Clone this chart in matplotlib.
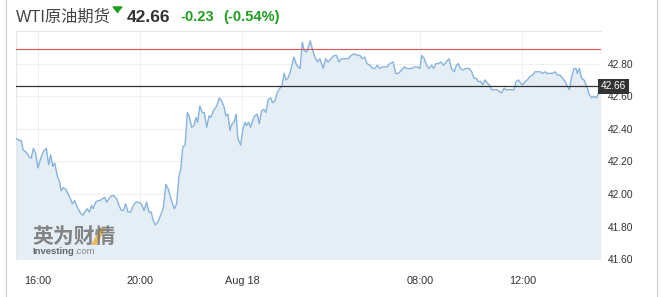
import matplotlib
matplotlib.use("Agg")
import matplotlib.pyplot as plt
from matplotlib.transforms import blended_transform_factory
from matplotlib.lines import Line2D
from matplotlib.patches import Polygon, FancyArrowPatch

plt.rcParams['font.family'] = ['Liberation Sans', 'Noto Sans CJK SC', 'DejaVu Sans']

# trading hours after 16:00 (the 1h break is skipped) and price
t_hours = [-0.84, -0.75, -0.66, -0.58, -0.48, -0.35, -0.26, -0.18, -0.09,
           0.00, 0.11, 0.21, 0.33, 0.42, 0.50, 0.58, 0.66, 0.76, 0.84, 0.91, 0.99,
           1.09, 1.22, 1.35, 1.44, 1.54, 1.68, 1.77, 1.84, 1.93,
           2.01, 2.11, 2.17, 2.26, 2.35, 2.43, 2.52, 2.62, 2.69, 2.78, 2.88, 2.98,
           3.09, 3.18, 3.27, 3.35, 3.44, 3.53, 3.64, 3.74, 3.84, 3.95,
           4.05, 4.16, 4.26, 4.35, 4.44, 4.52, 4.60, 4.71, 4.81, 4.91,
           5.02, 5.11, 5.24, 5.35, 5.44, 5.53, 5.60, 5.68, 5.77, 5.86, 5.93,
           6.03, 6.12, 6.20, 6.26, 6.35, 6.44, 6.52, 6.62, 6.71, 6.78, 6.88,
           7.01, 7.11, 7.20, 7.29, 7.37, 7.45, 7.53, 7.61, 7.69, 7.77, 7.84, 7.95,
           8.03, 8.12, 8.18, 8.26, 8.34, 8.42, 8.50, 8.60, 8.68, 8.77, 8.86, 8.94,
           9.03, 9.13, 9.20, 9.29, 9.38, 9.49, 9.57, 9.65, 9.73, 9.80, 9.88, 9.96,
           10.04, 10.12, 10.20, 10.28, 10.37, 10.44, 10.54, 10.62,
           10.68, 10.76, 10.86, 10.97, 11.06, 11.19, 11.28, 11.38, 11.49, 11.62,
           11.71, 11.80, 11.91, 12.04, 12.17, 12.28, 12.40, 12.54, 12.63, 12.72,
           12.82, 12.90, 13.02, 13.13, 13.22, 13.31, 13.40, 13.50, 13.68, 13.80,
           13.93, 14.03, 14.13, 14.26, 14.37, 14.46, 14.55, 14.66, 14.76, 14.89,
           14.98, 15.05, 15.15, 15.24, 15.33, 15.44, 15.52, 15.61, 15.70, 15.80,
           15.91, 16.01, 16.12, 16.22, 16.33,
           16.41, 16.48, 16.57, 16.67, 16.78, 16.91, 17.01, 17.10, 17.18, 17.27,
           17.36, 17.44, 17.53, 17.62, 17.70, 17.79, 17.88, 17.99, 18.09, 18.18,
           18.28, 18.35, 18.44, 18.58, 18.67, 18.75, 18.84, 18.93, 19.01, 19.10,
           19.19, 19.29, 19.40, 19.49, 19.58, 19.69, 19.79, 19.88, 19.97, 20.08,
           20.18, 20.28, 20.37, 20.47, 20.58, 20.67, 20.76, 20.84, 20.93, 21.02,
           21.10, 21.15, 21.23, 21.32, 21.41, 21.52, 21.62, 21.71, 21.80, 21.91,
           22.01, 22.07]

price = [42.34, 42.33, 42.33, 42.27, 42.26, 42.23, 42.22, 42.28, 42.25,
         42.16, 42.22, 42.26, 42.28, 42.18, 42.24, 42.17, 42.19, 42.11, 42.08, 42.02, 42.04,
         42.03, 41.99, 41.94, 41.96, 41.92, 41.88, 41.87, 41.89, 41.91,
         41.89, 41.93, 41.91, 41.95, 41.96, 41.96, 41.97, 41.98, 41.95, 41.97, 41.99, 41.99,
         41.97, 41.93, 41.90, 41.90, 41.94, 41.89, 41.89, 41.93, 41.95, 41.95,
         41.94, 41.90, 41.95, 41.89, 41.89, 41.84, 41.81, 41.83, 41.87, 41.91,
         42.06, 42.03, 41.96, 41.91, 41.94, 42.11, 42.15, 42.29, 42.30, 42.50, 42.48,
         42.41, 42.42, 42.47, 42.44, 42.54, 42.50, 42.50, 42.41, 42.48, 42.47, 42.51,
         42.54, 42.59, 42.57, 42.54, 42.48, 42.49, 42.39, 42.43, 42.44, 42.49, 42.34, 42.30,
         42.39, 42.44, 42.42, 42.44, 42.41, 42.45, 42.48, 42.49, 42.43, 42.51, 42.52, 42.50,
         42.58, 42.59, 42.56, 42.57, 42.62, 42.65, 42.66, 42.74, 42.70, 42.71, 42.74, 42.79,
         42.84, 42.80, 42.78, 42.77, 42.93, 42.88, 42.87, 42.91,
         42.94, 42.89, 42.84, 42.81, 42.83, 42.77, 42.83, 42.81, 42.83, 42.85,
         42.85, 42.81, 42.83, 42.83, 42.83, 42.85, 42.86, 42.85, 42.85, 42.83,
         42.84, 42.80, 42.79, 42.77, 42.77, 42.79, 42.77, 42.78, 42.78, 42.80,
         42.81, 42.74, 42.74, 42.76, 42.78, 42.77, 42.77, 42.77, 42.78, 42.78,
         42.77, 42.85, 42.83, 42.79, 42.77, 42.79, 42.77, 42.80, 42.80, 42.81,
         42.79, 42.81, 42.83, 42.77, 42.75,
         42.79, 42.80, 42.77, 42.76, 42.77, 42.77, 42.75, 42.71, 42.71, 42.69,
         42.69, 42.67, 42.70, 42.68, 42.67, 42.64, 42.64, 42.64, 42.63, 42.62,
         42.65, 42.64, 42.64, 42.64, 42.64, 42.69, 42.70, 42.68, 42.67, 42.69,
         42.70, 42.72, 42.73, 42.75, 42.75, 42.75, 42.74, 42.75, 42.74, 42.74,
         42.74, 42.75, 42.73, 42.73, 42.71, 42.69, 42.66, 42.64, 42.72, 42.77,
         42.77, 42.74, 42.77, 42.71, 42.70, 42.66, 42.61, 42.59, 42.60, 42.59,
         42.63, 42.66]

last_price = 42.66
prev_close = 42.89
change = "-0.23"
change_pct = "(-0.54%)"
x_tick_pos = [0, 4, 8, 15, 19]
x_tick_labels = ["16:00", "20:00", "Aug 18", "08:00", "12:00"]
y_ticks = [41.60, 41.80, 42.00, 42.20, 42.40, 42.60, 42.80]

green = "#1e9e1e"
line_blue = "#86b3de"
fill_blue = "#e5eef5"

W, H = 666, 297
fig = plt.figure(figsize=(6.66, 2.97), dpi=100)
ax = fig.add_axes([16 / W, 1 - 259.3 / H, 585 / W, 228.3 / H])

ax.fill_between(t_hours, price, 41.6, color=fill_blue, lw=0, zorder=1)
ax.plot(t_hours, price, color=line_blue, lw=1.0, zorder=3)
ax.axhline(prev_close, color="#d9534f", lw=0.8, zorder=4)
ax.axhline(last_price, color="#333333", lw=0.9, zorder=4)

ax.set_xlim(-0.86, 22.08)
ax.set_ylim(41.6, 43.0)
ax.set_xticks(x_tick_pos)
ax.set_xticklabels(x_tick_labels)
ax.set_yticks(y_ticks)
ax.set_yticklabels([f"{v:.2f}" for v in y_ticks])
ax.yaxis.tick_right()
ax.tick_params(axis='x', length=0, pad=12, labelsize=7.8, labelcolor="#333333")
ax.tick_params(axis='y', length=0, pad=5, labelsize=7.4, labelcolor="#333333")
ax.grid(True, color="#eef0f3", lw=0.8, zorder=0)
ax.set_axisbelow(True)
for side in ["right", "bottom"]:
    ax.spines[side].set_visible(False)
for side in ["top", "left"]:
    ax.spines[side].set_color("#e3e6ea")
    ax.spines[side].set_linewidth(0.8)

# last price tag on the right axis
trans = blended_transform_factory(ax.transAxes, ax.transData)
ax.text(1.0, last_price, f"{last_price:.2f}", transform=trans, ha="left", va="center",
        fontsize=7.3, color="white", zorder=6, clip_on=False,
        bbox=dict(boxstyle="square,pad=0.25", fc="#333333", ec="none"))

# watermark
fig.text(32 / W, 1 - 236 / H, "英为财情", fontsize=15, fontweight="bold",
         color="#707070", alpha=0.85, ha="left", va="center", family=["Noto Sans CJK SC"])
fig.add_artist(Polygon([(91 / W, 1 - 245 / H), (97 / W, 1 - 245 / H),
                        (106 / W, 1 - 228 / H), (100 / W, 1 - 228 / H)],
                       closed=True, transform=fig.transFigure,
                       fc="#e8b64a", ec="none", alpha=0.85))
fig.text(32 / W, 1 - 251 / H, "Investing", fontsize=6.8, fontweight="bold",
         color="#666666", ha="left", va="center")
fig.text(74 / W, 1 - 251 / H, ".com", fontsize=6.8, color="#888888",
         ha="left", va="center")

# header
fig.text(16 / W, 1 - 17 / H, "WTI原油期货", fontsize=11.7, color="#444444",
         ha="left", va="center")
fig.text(127 / W, 1 - 17 / H, f"{last_price:.2f}", fontsize=12.5, fontweight="bold",
         color="#333333", ha="left", va="center")
fig.text(180 / W, 1 - 17 / H, change, fontsize=10.5, fontweight="bold",
         color=green, ha="left", va="center")
fig.text(223 / W, 1 - 17 / H, change_pct, fontsize=10.5, fontweight="bold",
         color=green, ha="left", va="center")
fig.add_artist(FancyArrowPatch(
    (117.5 / W, 1 - 8 / H), (117.5 / W, 1 - 16 / H), transform=fig.transFigure,
    arrowstyle="-|>,head_width=3,head_length=3.5", color=green, lw=1.2))

# outer box borders
fig.add_artist(Line2D([5.5 / W] * 2, [0, 1], color="#d0d0d0", lw=0.9))
fig.add_artist(Line2D([656.5 / W] * 2, [0, 1], color="#d0d0d0", lw=0.9))

fig.savefig("out.png", dpi=100)
